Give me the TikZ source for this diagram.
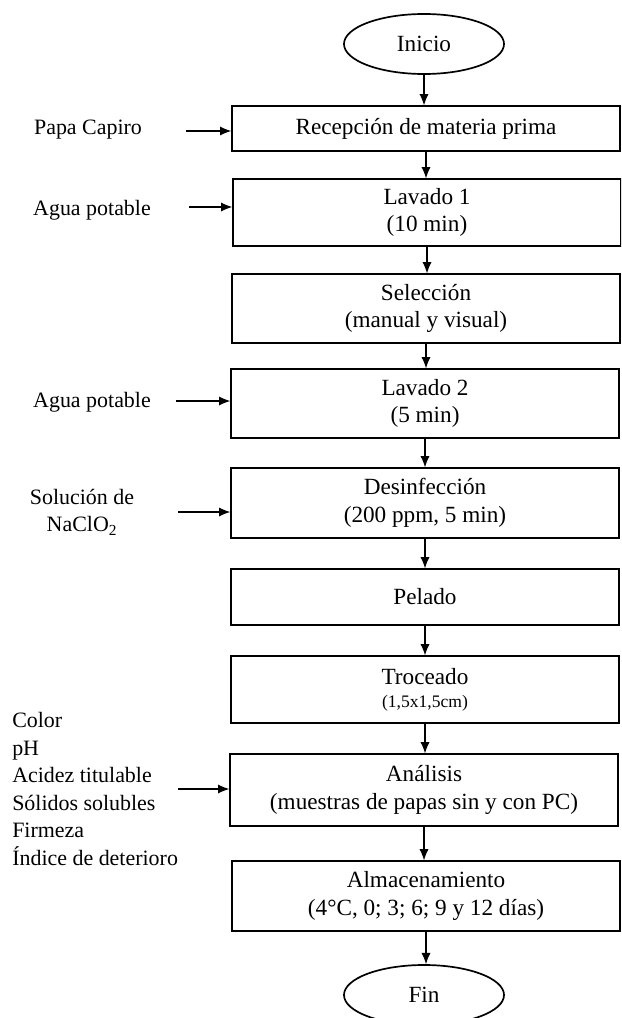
\documentclass[tikz,border=0pt]{standalone}
\usepackage{fontspec}
\setmainfont{Liberation Serif}
\usetikzlibrary{arrows.meta,shapes.geometric}

\begin{document}
\begin{tikzpicture}[x=0.025cm,y=-0.025cm,
		caja/.style={draw,line width=0.9pt,minimum width=9.7cm,align=center,inner sep=0pt,font=\fontsize{16.5}{19.6}\selectfont},
		elipse/.style={draw,ellipse,line width=1.2pt,minimum width=4cm,minimum height=1.5cm,inner sep=0pt,font=\fontsize{16.5}{19.6}\selectfont},
		entrada/.style={align=center,inner sep=0pt,font=\fontsize{15.6}{19.6}\selectfont},
		flecha/.style={-{Latex[length=8pt,width=6.5pt]},line width=0.8pt}]
			\useasboundingbox (0,0) rectangle (621,1018);
			\clip (0,0) rectangle (621,1018);
			% proceso
			\node[elipse] (ini) at (424,44) {Inicio};
			\node[caja,minimum height=1.125cm] (rec) at (426,128.5) {Recepción de materia prima};
			\node[caja,minimum height=1.675cm] (lav1) at (427,212.5) {Lavado 1\\(10 min)};
			\node[caja,minimum height=1.725cm] (sel) at (426,308.5) {Selección\\(manual y visual)};
			\node[caja,minimum height=1.725cm] (lav2) at (425,403.5) {Lavado 2\\(5 min)};
			\node[caja,minimum height=1.75cm] (des) at (425,503) {Desinfección\\(200 ppm, 5 min)};
			\node[caja,minimum height=1.4cm] (pel) at (425,597) {Pelado};
			\node[caja,minimum height=1.675cm] (tro) at (425,689.5) {Troceado\\[-3pt]{\fontsize{12.5}{14}\selectfont (1,5x1,5cm)}};
			\node[caja,minimum height=1.8cm] (ana) at (424,790) {Análisis\\(muestras de papas sin y con PC)};
			\node[caja,minimum height=1.75cm] (alm) at (426,896) {Almacenamiento\\(4°C, 0; 3; 6; 9 y 12 días)};
			\node[elipse] (fin) at (424,995) {Fin};
			% entradas
			\node[entrada] (papa) at (88,130) {Papa Capiro};
			\node[entrada] (agua1) at (92,210) {Agua potable};
			\node[entrada] (agua2) at (92,402) {Agua potable};
			\node[entrada] (sol) at (82,512) {Solución de\\NaClO\textsubscript{2}};
			\node[entrada,align=left,anchor=west] (param) at (12,789) {Color\\pH\\Acidez titulable\\Sólidos solubles\\Firmeza\\Índice de deterioro};
			\coordinate (e1) at (186,131);
			\coordinate (e2) at (189,207);
			\coordinate (e3) at (176,401);
			\coordinate (e4) at (178,512);
			\coordinate (e5) at (178,789);
			\draw[flecha] (e1)--(e1 -| rec.west);
			\draw[flecha] (e2)--(e2 -| lav1.west);
			\draw[flecha] (e3)--(e3 -| lav2.west);
			\draw[flecha] (e4)--(e4 -| des.west);
			\draw[flecha] (e5)--(e5 -| ana.west);
			% flujo
			\draw[flecha] (ini.south)--(ini.south |- rec.north);
			\draw[flecha] (rec.south)--(rec.south |- lav1.north);
			\draw[flecha] (lav1.south)--(lav1.south |- sel.north);
			\draw[flecha] (sel.south)--(sel.south |- lav2.north);
			\draw[flecha] (lav2.south)--(lav2.south |- des.north);
			\draw[flecha] (des.south)--(des.south |- pel.north);
			\draw[flecha] (pel.south)--(pel.south |- tro.north);
			\draw[flecha] (tro.south)--(tro.south |- ana.north);
			\draw[flecha] (ana.south)--(ana.south |- alm.north);
			\draw[flecha] (alm.south)--(alm.south |- fin.north);
		\end{tikzpicture}
\end{document}
